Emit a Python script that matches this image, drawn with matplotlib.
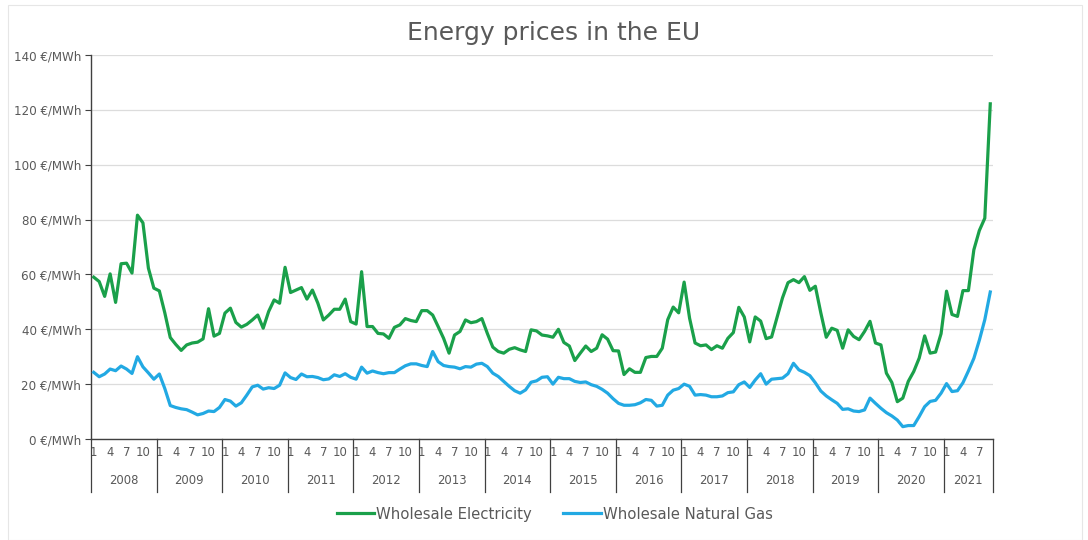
import matplotlib
matplotlib.use("Agg")
import matplotlib.pyplot as plt
import matplotlib.transforms as mtransforms
from matplotlib.patches import Rectangle

# ---------------- data (monthly, Jan 2008 - Sep 2021) ----------------
years = ["2008", "2009", "2010", "2011", "2012", "2013", "2014",
         "2015", "2016", "2017", "2018", "2019", "2020", "2021"]
months_per_year = [12] * 13 + [9]
month_tick_labels = ["1", "4", "7", "10"]
month_tick_numbers = [1, 4, 7, 10]

electricity = [
    # 2008
    59, 57.4, 52, 60.2, 49.8, 63.9, 64.1, 60.5, 81.6, 78.8, 62.3, 55,
    # 2009
    54, 46, 37, 34.5, 32.3, 34.3, 35, 35.3, 36.5, 47.5, 37.5, 38.5,
    # 2010
    45.9, 47.7, 42.5, 40.8, 41.8, 43.4, 45.2, 40.4, 46.5, 50.7, 49.5, 62.6,
    # 2011
    53.4, 54.3, 55.2, 51, 54.3, 49.5, 43.4, 45.2, 47.3, 47.3, 51, 42.8,
    # 2012
    41.9, 61, 41, 41, 38.5, 38.3, 36.7, 40.7, 41.6, 43.9, 43.2, 42.8,
    # 2013
    46.8, 46.8, 45.2, 41, 36.7, 31.3, 37.9, 39.2, 43.4, 42.4, 42.8, 43.9,
    # 2014
    38.5, 33.5, 31.9, 31.3, 32.7, 33.3, 32.5, 31.9, 39.8, 39.4, 37.9, 37.6,
    # 2015
    37.1, 40, 35.2, 33.9, 28.6, 31.3, 33.9, 31.9, 33.1, 38, 36.4, 32.2,
    # 2016
    32.1, 23.5, 25.6, 24.3, 24.3, 29.7, 30.1, 30.1, 33.1, 43.5, 48.1, 46,
    # 2017
    57.2, 44, 35, 34, 34.3, 32.6, 34, 33.1, 36.7, 38.8, 48, 44.5,
    # 2018
    35.4, 44.5, 43, 36.6, 37.2, 44.3, 51.5, 57, 58.1, 57, 59.2, 54.2,
    # 2019
    55.7, 46, 37.1, 40.4, 39.6, 33.1, 39.8, 37.4, 36.2, 39.2, 42.9, 35,
    # 2020
    34.3, 24, 20.6, 13.6, 14.9, 21, 24.6, 29.5, 37.6, 31.3, 31.7, 38.4,
    # 2021
    53.9, 45.4, 44.7, 54.1, 54.1, 69, 76, 80.5, 122.2,
]

natural_gas = [
    # 2008
    24.3, 22.7, 23.7, 25.5, 24.9, 26.6, 25.5, 23.9, 30, 26.3, 24.1, 21.8,
    # 2009
    23.7, 18.4, 12.2, 11.5, 11, 10.7, 9.8, 8.8, 9.3, 10.2, 10, 11.5,
    # 2010
    14.4, 13.8, 12, 13.2, 16, 19, 19.6, 18.2, 18.7, 18.4, 19.6, 24.1,
    # 2011
    22.4, 21.7, 23.7, 22.7, 22.8, 22.4, 21.6, 21.9, 23.4, 22.8, 23.8, 22.5,
    # 2012
    21.8, 26.2, 24, 24.8, 24.2, 23.8, 24.2, 24.2, 25.5, 26.7, 27.4, 27.4,
    # 2013
    26.8, 26.4, 31.9, 28.2, 26.8, 26.4, 26.2, 25.6, 26.4, 26.2, 27.3, 27.6,
    # 2014
    26.4, 24, 22.8, 21, 19.2, 17.6, 16.7, 17.9, 20.7, 21.2, 22.5, 22.7,
    # 2015
    20, 22.5, 22, 22, 21, 20.6, 20.8, 19.8, 19.2, 18.1, 16.7, 14.7,
    # 2016
    13, 12.3, 12.3, 12.5, 13.2, 14.4, 14.1, 12, 12.3, 16, 17.8, 18.4,
    # 2017
    20, 19.2, 16, 16.2, 16, 15.4, 15.4, 15.7, 16.9, 17.2, 19.8, 20.8,
    # 2018
    18.8, 21.5, 23.8, 20, 21.8, 22, 22.2, 23.8, 27.6, 25.2, 24.3, 23.1,
    # 2019
    20.5, 17.5, 15.7, 14.3, 13, 10.8, 11, 10.2, 10, 10.6, 14.9, 13,
    # 2020
    11.2, 9.6, 8.4, 6.9, 4.5, 4.9, 4.9, 8.2, 11.8, 13.7, 14.1, 16.7,
    # 2021
    20.2, 17.3, 17.6, 20.5, 24.8, 29.4, 36, 43.5, 53.6,
]

series_names = ["Wholesale Electricity", "Wholesale Natural Gas"]
y_ticks = [0, 20, 40, 60, 80, 100, 120, 140]

# ---------------- styling ----------------
GREEN = "#1aa04a"
BLUE = "#22a9e3"
TEXT = "#595959"
FONT = "DejaVu Sans"
plt.rcParams["font.family"] = [FONT]

fig = plt.figure(figsize=(10.88, 5.40), dpi=100)
fig.patch.set_facecolor("white")
ax = fig.add_axes([91 / 1088, 1 - 439 / 540, (993 - 91) / 1088, (439 - 55) / 540])

x = list(range(len(electricity)))
ax.plot(x, electricity, color=GREEN, lw=2.3, solid_joinstyle="round",
        label=series_names[0], zorder=3)
ax.plot(x, natural_gas, color=BLUE, lw=2.3, solid_joinstyle="round",
        label=series_names[1], zorder=3)

ax.set_xlim(-0.5, len(x) - 0.5)
ax.set_ylim(0, 140)
ax.set_yticks(y_ticks)
ax.set_yticklabels([f"{v} €/MWh" for v in y_ticks], color=TEXT, fontsize=8.6)
ax.tick_params(axis="y", direction="out", length=4, width=0.8, color="#404040", pad=3)
ax.grid(axis="y", color="#dcdcdc", lw=0.9)
ax.set_axisbelow(True)
for s in ["top", "right"]:
    ax.spines[s].set_visible(False)
ax.spines["left"].set_color("#404040")
ax.spines["bottom"].set_color("#404040")
ax.spines["left"].set_linewidth(1.0)
ax.spines["bottom"].set_linewidth(1.0)

# two-level category axis
ax.set_xticks([])
trans = mtransforms.blended_transform_factory(ax.transData, ax.transAxes)
start = 0
boundaries = [-0.5]
for yr, n in zip(years, months_per_year):
    for lab, m in zip(month_tick_labels, month_tick_numbers):
        if m <= n:
            ax.text(start + m - 1, -0.036, lab, transform=trans, ha="center",
                    va="center", fontsize=8.4, color=TEXT, clip_on=False)
    ax.text(start + (n - 1) / 2, -0.107, yr, transform=trans, ha="center",
            va="center", fontsize=8.4, color=TEXT, clip_on=False)
    start += n
    boundaries.append(start - 0.5)
for b in boundaries:
    ax.plot([b, b], [0, -0.138], transform=trans, color="#404040", lw=0.9,
            clip_on=False, zorder=4)

# title
fig.text(0.509, 0.938, "Energy prices in the EU", ha="center", va="center",
         fontsize=18, color=TEXT)

# legend
fig.legend(loc="center", bbox_to_anchor=(0.51, 0.048), ncol=2, frameon=False,
           fontsize=10.7, handlelength=2.5, handletextpad=0.15, columnspacing=2.1,
           labelcolor=TEXT)

# faint chart border
fig.patches.append(Rectangle((8 / 1088, 0), (1082 - 8) / 1088, 1 - 5 / 540,
                             transform=fig.transFigure, fill=False,
                             edgecolor="#e6e6e6", lw=0.8))

fig.savefig("out.png", dpi=100, facecolor="white")
